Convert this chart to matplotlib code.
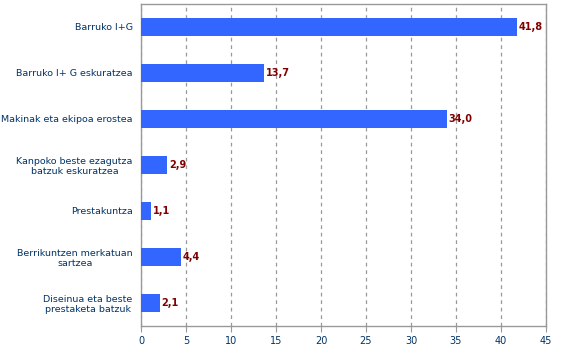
import matplotlib.pyplot as plt

categories = ['Barruko I+G', 'Barruko I+ G eskuratzea', 'Makinak eta ekipoa erostea',
              'Kanpoko beste ezagutza\nbatzuk eskuratzea', 'Prestakuntza',
              'Berrikuntzen merkatuan\nsartzea', 'Diseinua eta beste\nprestaketa batzuk']
values = [41.8, 13.7, 34.0, 2.9, 1.1, 4.4, 2.1]
value_labels = ['41,8', '13,7', '34,0', '2,9', '1,1', '4,4', '2,1']
xticks = [0, 5, 10, 15, 20, 25, 30, 35, 40, 45]

fig = plt.figure(figsize=(5.67, 3.52), dpi=100)
ax = fig.add_axes([141 / 567, 26 / 352, 405 / 567, 322 / 352])

pos = list(range(len(categories)))
ax.barh(pos, values, height=0.39, color='#3366ff', zorder=3)
for p, v, lab in zip(pos, values, value_labels):
    ax.text(v + 0.2, p, lab, va='center', ha='left', fontsize=7,
            fontweight='bold', color='#800000', zorder=4)

ax.set_ylim(len(categories) - 0.5, -0.5)
ax.set_xlim(0, 45)
ax.set_yticks(pos)
ax.set_yticklabels(categories, fontsize=6.8, color='#003366', ha='right',
                   multialignment='center')
ax.set_xticks(xticks)
ax.set_xticklabels([str(t) for t in xticks], fontsize=7, color='#003366')
ax.tick_params(axis='y', length=0, pad=6)
ax.tick_params(axis='x', length=4, color='#999999', pad=3)
ax.grid(axis='x', linestyle=(0, (3, 3)), color='#999999', linewidth=0.9, zorder=0)
for s in ax.spines.values():
    s.set_color('#999999')
    s.set_linewidth(1)

fig.savefig('out.png', dpi=100)
